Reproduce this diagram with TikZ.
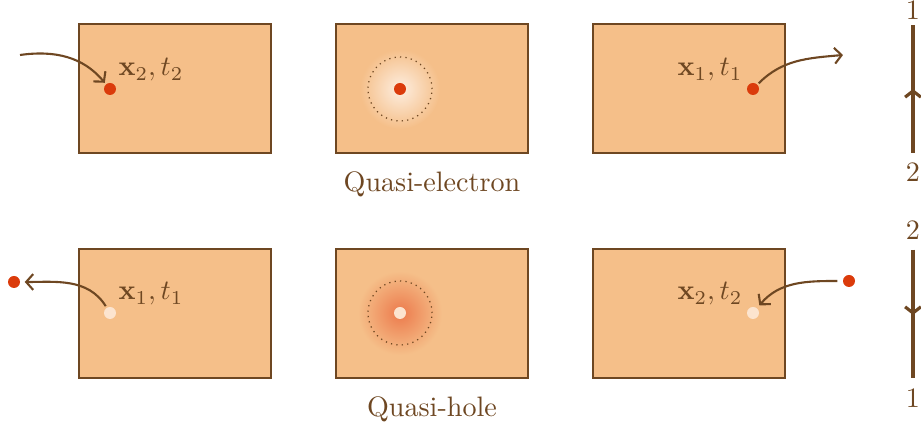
\documentclass[tikz,border=0pt]{standalone}
\usetikzlibrary{arrows.meta}
\definecolor{boxfill}{HTML}{F5BF89}
\definecolor{brn}{HTML}{6E4722}
\definecolor{reddot}{HTML}{DB3B0B}
\definecolor{paledot}{HTML}{FCE4CF}
\definecolor{qein}{HTML}{FDEEE0}
\definecolor{qhin}{HTML}{EC7A4C}
\pgfdeclareradialshading{qeshade}{\pgfpoint{0bp}{0bp}}{color(0bp)=(qein); color(25bp)=(boxfill); color(50bp)=(boxfill)}
\pgfdeclareradialshading{qhshade}{\pgfpoint{0bp}{0bp}}{color(0bp)=(qhin); color(25bp)=(boxfill); color(50bp)=(boxfill)}
\tikzset{
  panel/.style={draw=brn, fill=boxfill, line width=0.7pt, minimum width=192*0.02cm, minimum height=129*0.02cm, inner sep=0pt},
  rdot/.style={circle, fill=reddot, minimum size=12*0.02cm, inner sep=0pt},
  pdot/.style={circle, fill=paledot, minimum size=12*0.02cm, inner sep=0pt},
  lbl/.style={text=brn, scale=1.6, inner sep=1pt},
  arr/.style={draw=brn, line width=1.2pt, -{Straight Barb[length=4pt,width=9pt]}},
  vline/.style={draw=brn, line width=1.8pt},
  varr/.style={draw=brn, line width=1.8pt, -{Straight Barb[length=3.5pt,width=9pt]}},
  ring/.style={draw=brn, line width=0.7pt, dash pattern=on 0.7pt off 2.4pt},
}
\begin{document}
\begin{tikzpicture}[x=0.02cm,y=0.02cm]
\useasboundingbox (0,0) rectangle (921,432);
% panels
\node[panel] (p1) at (175,343.5) {};
\node[panel] (p2) at (432,343.5) {};
\node[panel] (p3) at (689,343.5) {};
\node[panel] (p4) at (175,118.5) {};
\node[panel] (p5) at (432,118.5) {};
\node[panel] (p6) at (689,118.5) {};
% shadings
\shade[shading=qeshade] (400,343) circle (40);
\shade[shading=qhshade] (400,119) circle (42);
\draw[ring] (400,343) circle (32);
\draw[ring] (400,119) circle (32);
% dots
\node[rdot] (d1) at (110,343) {};
\node[rdot] (d2) at (400,343) {};
\node[rdot] (d3) at (753,343) {};
\node[pdot] (d4) at (110,119) {};
\node[pdot] (d5) at (400,119) {};
\node[pdot] (d6) at (753,119) {};
\node[rdot] (r4) at (14,150) {};
\node[rdot] (r6) at (849,151) {};
% labels
\node[lbl] (l1) at (151,362) {$\mathbf{x}_2, t_2$};
\node[lbl] (l3) at (710,362) {$\mathbf{x}_1, t_1$};
\node[lbl] (l4) at (151,138) {$\mathbf{x}_1, t_1$};
\node[lbl] (l6) at (710,138) {$\mathbf{x}_2, t_2$};
\node[lbl] (qe) at (432,248) {Quasi-electron};
\node[lbl] (qh) at (432,23) {Quasi-hole};
% curved arrows
\coordinate (s1) at (20,377);
\coordinate (e3) at (843,377);
\draw[arr, shorten >=1pt] (s1) to[out=8,in=130] (d1);
\draw[arr, shorten <=1pt] (d3) to[out=45,in=185] (e3);
\draw[arr, shorten >=2.5pt, shorten <=1pt] (d4) to[out=122,in=0] (r4);
\draw[arr, shorten >=2pt, shorten <=3pt] (r6) to[out=180,in=50] (d6);
% vertical time lines
\coordinate (t1top) at (913,407);
\coordinate (t1mid) at (913,343);
\coordinate (t1bot) at (913,279);
\coordinate (t2top) at (913,182);
\coordinate (t2mid) at (913,117);
\coordinate (t2bot) at (913,54);
\draw[vline] (t1bot) -- (t1top);
\draw[varr] (t1bot) -- (t1mid);
\draw[vline] (t2top) -- (t2bot);
\draw[varr] (t2top) -- (t2mid);
\node[lbl] (n1a) at (913,422) {1};
\node[lbl] (n2a) at (913,260) {2};
\node[lbl] (n2b) at (913,202) {2};
\node[lbl] (n1b) at (913,34) {1};
\end{tikzpicture}
\end{document}
